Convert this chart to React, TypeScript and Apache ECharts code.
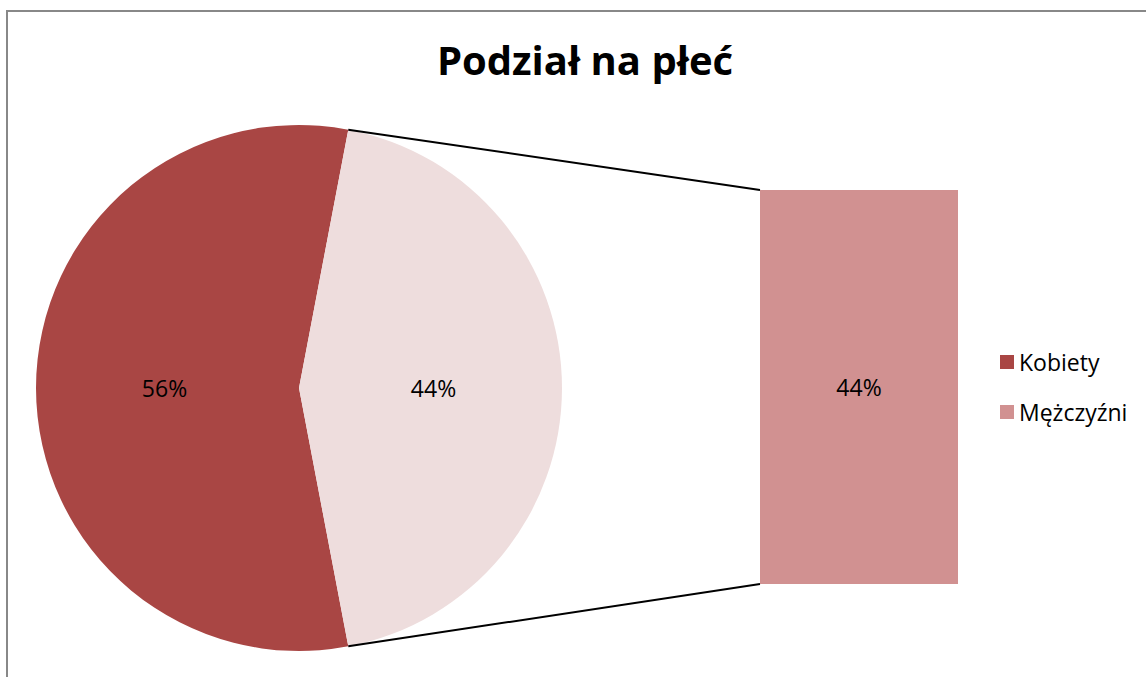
import React, { useEffect, useRef } from "react";
import * as echarts from "echarts";

const titleText = "Podział na płeć";
const categories = ["Kobiety", "Mężczyźni"];
const shares = [56, 44];
const secondPlotValues = [44];
const pieColors = ["#A94644", "#EEDDDD"];
const barColor = "#D19191";

export default function App() {
  const ref = useRef<HTMLDivElement>(null);
  useEffect(() => {
    if (!ref.current) return;
    const chart = echarts.init(ref.current, null, { renderer: "svg" });
    const cx = 299, cy = 388, r = 263;
    const barLeft = 760, barTop = 190, barW = 198, barH = 394;
    const total = shares.reduce((a, b) => a + b, 0);
    const half = (shares[1] / total) * 180; // half angle of the split slice
    const rad = (half * Math.PI) / 180;
    const px = cx + r * Math.cos(rad);
    const pyTop = cy - r * Math.sin(rad);
    const pyBot = cy + r * Math.sin(rad);
    const font = "'Open Sans', sans-serif";
    chart.setOption({
      animation: false,
      title: {
        text: titleText,
        left: 580,
        textAlign: "center",
        top: 29,
        textStyle: { fontFamily: font, fontSize: 40, fontWeight: "bold", color: "#000", lineHeight: 50 },
      },
      legend: {
        orient: "vertical",
        left: 995,
        top: 343,
        icon: "rect",
        itemWidth: 14,
        itemHeight: 14,
        itemGap: 22,
        textStyle: { fontFamily: font, fontSize: 23, color: "#000", lineHeight: 28 },
        data: [
          { name: categories[0], itemStyle: { color: pieColors[0] } },
          { name: categories[1], itemStyle: { color: barColor } },
        ],
      },
      grid: { left: barLeft, top: barTop, width: barW, height: barH },
      xAxis: { type: "category", data: [categories[1]], show: false },
      yAxis: { type: "value", min: 0, max: secondPlotValues[0], show: false },
      graphic: [
        {
          type: "rect",
          shape: { x: 7, y: 11, width: 1160, height: 700 },
          style: { fill: "none", stroke: "#888888", lineWidth: 2 },
          silent: true,
          z: 0,
        },
        {
          type: "line",
          shape: { x1: px, y1: pyTop, x2: barLeft, y2: barTop },
          style: { stroke: "#000", lineWidth: 2 },
          z: 10,
        },
        {
          type: "line",
          shape: { x1: px, y1: pyBot, x2: barLeft, y2: barTop + barH },
          style: { stroke: "#000", lineWidth: 2 },
          z: 10,
        },
      ],
      series: [
        {
          type: "pie",
          name: "pie",
          center: [cx, cy],
          radius: r,
          startAngle: -half,
          clockwise: true,
          label: {
            show: true,
            position: "inside",
            formatter: "{c}%",
            fontFamily: font,
            fontSize: 23,
            color: "#000",
          },
          labelLine: { show: false },
          emphasis: { disabled: true },
          itemStyle: { borderWidth: 0 },
          data: categories.map((c, i) => ({ name: c, value: shares[i], itemStyle: { color: pieColors[i] } })),
        },
        {
          type: "bar",
          name: categories[1],
          barWidth: "100%",
          itemStyle: { color: barColor },
          label: {
            show: true,
            position: "inside",
            formatter: "{c}%",
            fontFamily: font,
            fontSize: 23,
            color: "#000",
          },
          data: secondPlotValues,
        },
      ],
    });
    return () => chart.dispose();
  }, []);
  return (
    <div
      ref={ref}
      style={{ position: "fixed", left: 0, top: 0, width: 1146, height: 677, background: "#fff" }}
    />
  );
}
